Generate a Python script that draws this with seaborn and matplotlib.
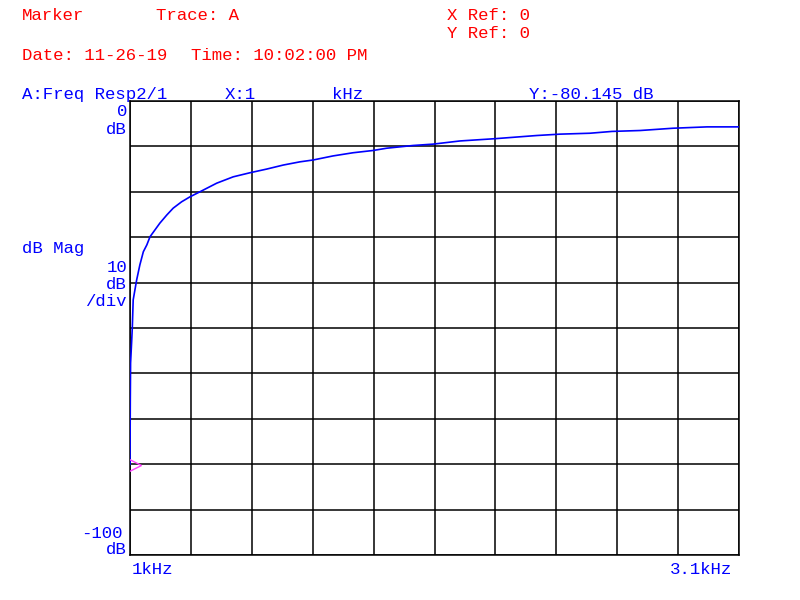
import matplotlib
matplotlib.use("Agg")
import matplotlib.pyplot as plt
import seaborn as sns
import pandas as pd

# Values (kHz, dB)
freq_khz = [1.000, 1.001, 1.002, 1.006, 1.008, 1.011, 1.023, 1.034, 1.046, 1.058,
            1.069, 1.086, 1.103, 1.127, 1.149, 1.178, 1.207, 1.241, 1.299, 1.356,
            1.414, 1.471, 1.529, 1.586, 1.631, 1.700, 1.769, 1.838, 1.885, 1.976,
            2.045, 2.138, 2.259, 2.403, 2.483, 2.586, 2.662, 2.759, 2.872, 2.990, 3.100]
mag_db = [-80.1, -65.9, -57.7, -52.6, -49.8, -43.8, -39.4, -36.1, -33.2, -31.7,
          -29.9, -28.4, -26.9, -25.1, -23.6, -22.2, -21.1, -20.0, -18.1, -16.7,
          -15.8, -15.0, -14.1, -13.4, -13.0, -12.1, -11.4, -10.9, -10.4, -9.8,
          -9.5, -8.8, -8.3, -7.6, -7.3, -7.1, -6.7, -6.5, -6.0, -5.7, -5.7]

marker_x = 1.0
marker_y = -80.145

x_start, x_stop = 1.0, 3.1
y_top, y_bottom = 0, -100

df = pd.DataFrame({"freq": freq_khz, "mag": mag_db})

sns.set_style("white")
plt.rcParams['font.family'] = ['Liberation Mono', 'DejaVu Sans Mono']

RED = "#ff0000"
BLUE = "#0000ff"

fig = plt.figure(figsize=(8, 6), dpi=100)
ax = fig.add_axes([130 / 800, 45 / 600, 609 / 800, 454 / 600])

# Grid, 10 x 10 divisions
xstep = (x_stop - x_start) / 10
for i in range(11):
    ax.axvline(x_start + i * xstep, color="black", lw=1.1, zorder=1)
    ax.axhline(y_bottom + i * 10, color="black", lw=1.1, zorder=1)

sns.lineplot(data=df, x="freq", y="mag", ax=ax, color=BLUE, lw=1.2,
             sort=False, estimator=None, zorder=3)
ax.plot([marker_x + 0.013], [marker_y], marker=">", markersize=10,
        markerfacecolor="none", markeredgecolor="#ff40ff", mew=1.0, zorder=4)

ax.set_xlim(x_start, x_stop)
ax.set_ylim(y_bottom, y_top)
ax.set_xticks([])
ax.set_yticks([])
ax.set_xlabel("")
ax.set_ylabel("")
for s in ax.spines.values():
    s.set_color("black")
    s.set_linewidth(1.1)

fs = 12.5


def txt(x, y, s, color, ha="left"):
    fig.text(x / 800, 1 - y / 600, s, color=color, ha=ha, va="center", fontsize=fs)


# header (red)
txt(22, 16, "Marker", RED)
txt(156, 16, "Trace: A", RED)
txt(447, 16, "X Ref: 0", RED)
txt(447, 33, "Y Ref: 0", RED)
txt(22, 55, "Date: 11-26-19", RED)
txt(191, 55, "Time: 10:02:00 PM", RED)

# trace info (blue)
txt(22, 94, "A:Freq Resp2/1", BLUE)
txt(225, 94, "X:1", BLUE)
txt(332, 94, "kHz", BLUE)
txt(529, 94, "Y:-80.145 dB", BLUE)

# y annotations
txt(127, 112, "0", BLUE, ha="right")
txt(127, 130, "dB", BLUE, ha="right")
txt(22, 249, "dB Mag", BLUE)
txt(127, 267, "10", BLUE, ha="right")
txt(127, 284, "dB", BLUE, ha="right")
txt(127, 301, "/div", BLUE, ha="right")
txt(123, 533, "-100", BLUE, ha="right")
txt(127, 550, "dB", BLUE, ha="right")

# x annotations
txt(132, 569, "1kHz", BLUE)
txt(732, 569, "3.1kHz", BLUE, ha="right")

fig.savefig("out.png", dpi=100)
